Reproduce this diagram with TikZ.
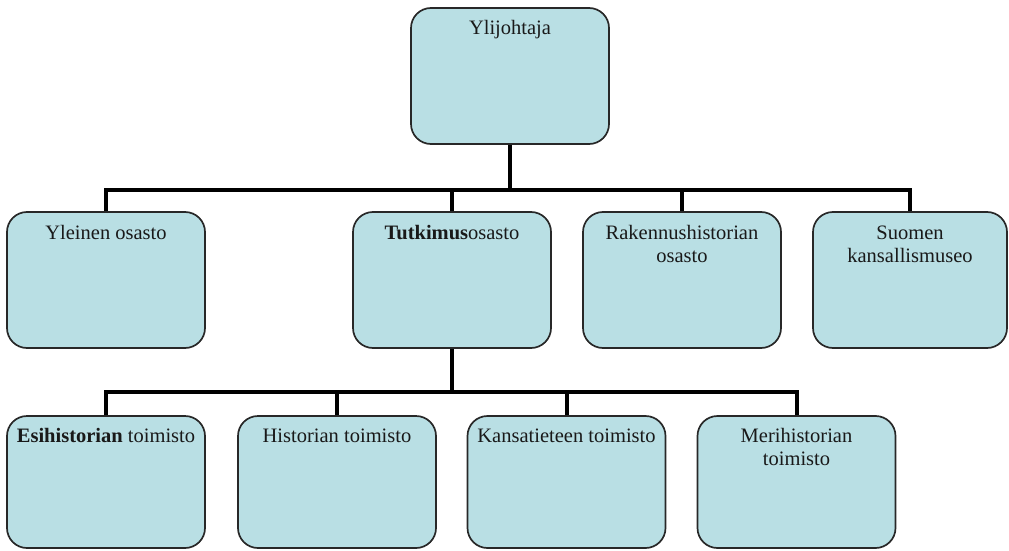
\documentclass[tikz,border=0pt]{standalone}
\usepackage{fontspec}
\setmainfont{Liberation Serif}
\definecolor{boxfill}{RGB}{185,223,228}
\definecolor{boxline}{RGB}{40,40,40}
\definecolor{txt}{RGB}{25,25,25}
\begin{document}
\begin{tikzpicture}[x=1pt,y=1pt,
  orgbox/.style={draw=boxline, fill=boxfill, line width=1.7pt, rounded corners=20pt,
    minimum width=198pt, minimum height=136pt, inner sep=0pt},
  lowbox/.style={orgbox, minimum height=132pt},
  boxtext/.style={anchor=base, align=center, text=txt, inner sep=0pt,
    font=\fontsize{20.5}{23}\selectfont},
  conn/.style={draw=black, line width=4pt}]
\useasboundingbox (0,0) rectangle (1009,-551);
% boxes
\node[orgbox] (yl) at (510,-76) {};
\node[orgbox] (yo) at (106,-280) {};
\node[orgbox] (tu) at (452,-280) {};
\node[orgbox] (ra) at (682,-280) {};
\node[orgbox, minimum width=194pt] (su) at (910,-280) {};
\node[lowbox] (es) at (106,-482) {};
\node[lowbox] (hi) at (337,-482) {};
\node[lowbox] (ka) at (566.5,-482) {};
\node[lowbox] (me) at (796.5,-482) {};
% texts
\node[boxtext] (ylT) at ([yshift=-27pt]yl.north) {Ylijohtaja};
\node[boxtext] (yoT) at ([yshift=-28pt]yo.north) {Yleinen osasto};
\node[boxtext] (tuT) at ([yshift=-28pt]tu.north) {\textbf{Tutkimus}osasto};
\node[boxtext] (raT) at ([yshift=-51pt]ra.north) {Rakennushistorian\\osasto};
\node[boxtext] (suT) at ([yshift=-51pt]su.north) {Suomen\\kansallismuseo};
\node[boxtext] (esT) at ([yshift=-27pt]es.north) {\textbf{Esihistorian} toimisto};
\node[boxtext] (hiT) at ([yshift=-27pt]hi.north) {Historian toimisto};
\node[boxtext] (kaT) at ([yshift=-27pt]ka.north) {Kansatieteen toimisto};
\node[boxtext] (meT) at ([yshift=-50pt]me.north) {Merihistorian\\toimisto};
% connectors
\coordinate (bus1) at (510,-190);
\coordinate (bus2) at (452,-392);
\draw[conn] (yl.south) -- (bus1);
\foreach \c in {yo,tu,ra,su}{\draw[conn] (\c.north) |- (bus1);}
\draw[conn] (tu.south) -- (bus2);
\foreach \c in {es,hi,ka,me}{\draw[conn] (\c.north) |- (bus2);}
\end{tikzpicture}
\end{document}
